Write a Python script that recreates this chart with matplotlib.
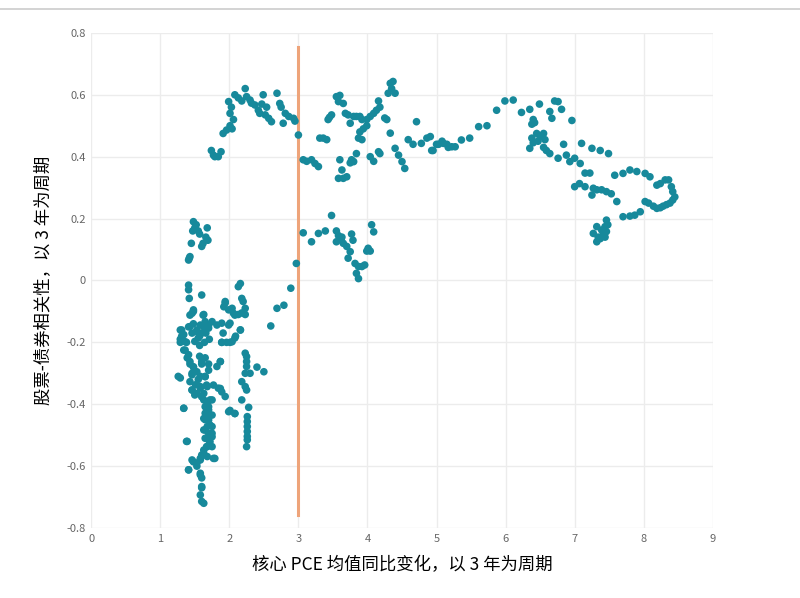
import numpy as np
import matplotlib.pyplot as plt
from matplotlib.lines import Line2D

plt.rcParams['font.family'] = ['Noto Sans CJK SC', 'DejaVu Sans']

# 低通胀区间 (PCE 1~3)
low_x = [1.48, 1.52, 1.50, 1.55, 1.47, 1.57, 1.68, 1.66, 1.69, 1.62, 1.60, 1.45,
         1.43, 1.41, 1.42, 1.41, 1.41, 1.42, 1.60, 2.13, 2.16, 2.18, 2.20, 1.94,
         1.92, 1.99, 2.06, 2.13, 2.23, 2.23, 2.16, 2.09, 2.01, 1.89, 1.48, 1.46,
         1.63, 1.31, 1.29, 1.34, 1.41, 1.48, 1.53, 1.57, 1.63, 1.70, 1.75, 1.82,
         1.89, 1.99, 1.66, 1.71, 1.64, 1.57, 1.50, 1.38, 1.34, 1.39, 1.43, 1.48,
         1.57, 1.60, 1.70, 1.70, 1.82, 1.87, 1.65, 1.58, 1.46, 1.43, 1.26, 1.51,
         1.58, 1.68, 1.77, 1.87, 1.89, 1.94, 1.46, 1.53, 1.63, 1.34, 1.39,
         2.23, 2.25, 2.25, 2.25, 2.23, 2.30, 2.40, 2.50, 2.18, 2.23, 2.25, 2.18,
         2.28, 2.26, 2.26, 2.26, 2.26, 2.26, 2.26, 2.25, 2.01, 2.08,
         2.97, 2.89, 2.79, 2.69, 2.60,
         1.63, 1.68, 1.72, 1.70, 1.65, 1.75, 1.63, 1.70, 1.68, 1.75, 1.63, 1.70,
         1.75, 1.65, 1.72, 1.68, 1.75, 1.63, 1.60, 1.68, 1.58, 1.77, 1.48, 1.41,
         1.53, 1.58, 1.60, 1.60, 1.58]
low_y = [0.19, 0.18, 0.17, 0.16, 0.16, 0.15, 0.17, 0.14, 0.13, 0.12, 0.11, 0.12,
         0.077, 0.066, 0.072, -0.015, -0.03, -0.058, -0.047, -0.02, -0.01, -0.058, -0.068, -0.068,
         -0.085, -0.095, -0.106, -0.11, -0.11, -0.09, -0.16, -0.18, -0.20, -0.20, -0.095, -0.106,
         -0.11, -0.16, -0.19, -0.175, -0.15, -0.14, -0.165, -0.18, -0.15, -0.145, -0.133, -0.144,
         -0.138, -0.144, -0.17, -0.19, -0.20, -0.21, -0.197, -0.20, -0.225, -0.25, -0.27, -0.28,
         -0.245, -0.27, -0.27, -0.29, -0.278, -0.262, -0.31, -0.31, -0.30, -0.327, -0.31, -0.337,
         -0.343, -0.343, -0.338, -0.349, -0.36, -0.375, -0.354, -0.365, -0.365, -0.413, -0.52,
         -0.235, -0.246, -0.262, -0.278, -0.30, -0.30, -0.28, -0.295, -0.327, -0.343, -0.354, -0.386,
         -0.41, -0.44, -0.456, -0.472, -0.488, -0.504, -0.515, -0.537, -0.42, -0.43,
         0.055, -0.025, -0.08, -0.09, -0.147,
         -0.386, -0.397, -0.386, -0.418, -0.429, -0.435, -0.446, -0.451, -0.472, -0.472, -0.483, -0.494,
         -0.505, -0.51, -0.521, -0.537, -0.537, -0.548, -0.564, -0.569, -0.58, -0.575, -0.586, -0.612,
         -0.60, -0.628, -0.666, -0.714, -0.693]

# 低通胀区间中最密集的一团
dense_x = [1.29, 1.31, 1.29, 1.36, 1.43, 1.46, 1.53, 1.58, 1.65, 1.70, 1.60, 1.55,
           1.43, 1.48, 1.62, 1.36, 1.41, 1.43, 1.48, 1.53, 1.46, 1.55, 1.65, 1.67,
           1.58, 1.46, 1.50, 1.60, 1.75, 1.70, 1.84, 1.87, 1.60, 1.65, 1.29, 1.89,
           1.96, 2.04, 2.08, 1.91, 2.01, 2.08, 2.18, 1.94, 2.04, 2.16,
           1.34, 1.38, 1.65, 1.70, 1.65, 1.72, 1.65, 1.75, 1.70, 1.67, 1.63, 1.58,
           1.46, 1.53, 1.41, 1.58, 1.60, 1.79, 1.99, 2.08, 1.60, 1.63]
dense_y = [-0.16, -0.18, -0.20, -0.198, -0.149, -0.17, -0.16, -0.144, -0.133, -0.154, -0.17, -0.186,
           -0.112, -0.10, -0.112, -0.225, -0.24, -0.262, -0.279, -0.295, -0.305, -0.32, -0.311, -0.338,
           -0.348, -0.354, -0.37, -0.376, -0.386, -0.408, -0.348, -0.262, -0.262, -0.25, -0.315, -0.20,
           -0.20, -0.198, -0.186, -0.17, -0.138, -0.112, -0.105, -0.073, -0.09, -0.16,
           -0.413, -0.52, -0.408, -0.43, -0.45, -0.467, -0.483, -0.494, -0.515, -0.537, -0.559, -0.575,
           -0.58, -0.59, -0.612, -0.623, -0.638, -0.575, -0.424, -0.43, -0.67, -0.72]

# 中段 (PCE 1.7~3.3, 高相关)
mid_x = [1.74, 1.79, 1.84, 1.88, 1.77, 1.91, 1.96, 2.01, 2.04, 2.06, 2.01, 2.03,
         1.99, 2.08, 2.13, 2.23, 2.18, 2.25, 2.30, 2.32, 2.37, 2.49, 2.47, 2.54,
         2.42, 2.44, 2.52, 2.57, 2.61, 2.69, 2.73, 2.75, 2.81, 2.86, 2.93, 2.95,
         2.78, 3.00]
mid_y = [0.42, 0.40, 0.40, 0.416, 0.405, 0.475, 0.486, 0.50, 0.49, 0.52, 0.54, 0.56,
         0.578, 0.60, 0.59, 0.62, 0.58, 0.594, 0.583, 0.573, 0.567, 0.60, 0.57, 0.56,
         0.55, 0.54, 0.535, 0.524, 0.513, 0.605, 0.572, 0.56, 0.54, 0.53, 0.524, 0.515,
         0.508, 0.47]

# PCE 3~5.8
up_x = [3.07, 3.12, 3.19, 3.24, 3.29, 3.31, 3.36, 3.41, 3.43, 3.48, 3.45,
        3.55, 3.60, 3.58, 3.65, 3.68, 3.72, 3.75, 3.80, 3.84, 3.89, 3.92, 3.99,
        4.04, 4.09, 4.13, 4.18, 4.16, 4.25, 4.28, 4.33, 4.37, 4.35, 4.40, 4.30,
        3.89, 3.94, 3.99, 3.87, 3.92, 3.60, 3.77, 3.80, 3.84, 3.75, 3.63, 3.58,
        3.65, 3.70, 4.04, 4.09, 4.16, 4.18, 4.33, 4.40, 4.45, 4.50, 4.54,
        4.71, 4.59, 4.66, 4.78, 4.86, 4.91, 4.93, 4.95, 5.00, 5.03, 5.08, 5.10,
        5.15, 5.17, 5.22, 5.27, 5.36, 5.48, 5.61, 5.73]
up_y = [0.39, 0.385, 0.39, 0.378, 0.368, 0.46, 0.46, 0.455, 0.52, 0.535, 0.527,
        0.594, 0.598, 0.578, 0.572, 0.54, 0.535, 0.508, 0.53, 0.53, 0.53, 0.52, 0.52,
        0.53, 0.54, 0.55, 0.56, 0.58, 0.525, 0.52, 0.637, 0.643, 0.62, 0.605, 0.605,
        0.48, 0.49, 0.50, 0.46, 0.455, 0.39, 0.39, 0.384, 0.41, 0.38, 0.357, 0.33,
        0.33, 0.335, 0.40, 0.385, 0.416, 0.41, 0.476, 0.427, 0.405, 0.384, 0.362,
        0.513, 0.455, 0.44, 0.443, 0.46, 0.465, 0.42, 0.42, 0.44, 0.44, 0.45, 0.443,
        0.44, 0.43, 0.432, 0.432, 0.454, 0.46, 0.497, 0.50]

# PCE 3~4.1, 低相关
dip_x = [3.48, 3.07, 3.19, 3.29, 3.39, 3.55, 3.58, 3.62, 3.55, 3.65, 3.70, 3.63,
         3.77, 3.79, 3.75, 3.72, 3.82, 3.87, 3.92, 3.96, 3.84, 3.87, 4.01, 4.04,
         3.99, 4.06, 4.09]
dip_y = [0.21, 0.154, 0.125, 0.152, 0.16, 0.16, 0.145, 0.13, 0.125, 0.12, 0.11, 0.14,
         0.15, 0.13, 0.093, 0.072, 0.055, 0.045, 0.045, 0.05, 0.023, 0.006, 0.104, 0.095,
         0.095, 0.18, 0.157]

# 高通胀区间 (PCE 5.8~8.5)
high_x = [5.87, 5.99, 6.11, 6.23, 6.35, 6.49, 6.71, 6.76, 6.64, 6.81, 6.67, 6.96,
          6.40, 6.42, 6.38, 6.45, 6.55, 6.50, 6.57, 6.38, 6.40, 6.35, 6.47, 6.55,
          6.59, 6.64, 6.76, 6.88, 6.84, 6.93, 7.00, 7.10, 7.08, 7.25, 7.37, 7.49,
          7.15, 7.22, 7.00, 7.07, 7.15, 7.27, 7.32, 7.39, 7.46, 7.53, 7.25, 7.61,
          7.58, 7.70, 7.80, 7.90, 8.02, 8.09, 8.19, 8.24, 8.31, 8.36, 8.40, 8.42,
          8.45, 8.42, 8.38, 8.33, 8.28, 8.24, 8.19, 8.14, 8.07, 8.02, 7.95, 7.87,
          7.80, 7.70, 7.46, 7.48, 7.44, 7.32, 7.39, 7.46, 7.41, 7.27, 7.34, 7.44,
          7.32, 7.37]
high_y = [0.55, 0.58, 0.583, 0.543, 0.553, 0.57, 0.58, 0.578, 0.546, 0.553, 0.524, 0.517,
          0.52, 0.51, 0.505, 0.475, 0.475, 0.465, 0.455, 0.46, 0.445, 0.427, 0.45, 0.43,
          0.42, 0.41, 0.395, 0.405, 0.44, 0.384, 0.395, 0.443, 0.378, 0.427, 0.42, 0.41,
          0.347, 0.347, 0.303, 0.313, 0.303, 0.298, 0.293, 0.293, 0.287, 0.28, 0.276, 0.255,
          0.34, 0.346, 0.357, 0.352, 0.346, 0.335, 0.308, 0.313, 0.325, 0.325, 0.303, 0.287,
          0.27, 0.26, 0.25, 0.245, 0.24, 0.235, 0.233, 0.24, 0.25, 0.255, 0.222, 0.211,
          0.208, 0.206, 0.195, 0.18, 0.174, 0.174, 0.163, 0.158, 0.147, 0.152, 0.14, 0.14,
          0.125, 0.135]

pce = np.array(low_x + dense_x + mid_x + up_x + dip_x + high_x)
corr = np.array(low_y + dense_y + mid_y + up_y + dip_y + high_y)

line_x = 3.0
line_y = [-0.758, 0.755]

y_ticks = [-0.8, -0.6, -0.4, -0.2, 0, 0.2, 0.4, 0.6, 0.8]
y_labels = ['-0.8', '-0.6', '-0.4', '-0.2', '0', '0.2', '0.4', '0.6', '0.8']

fig = plt.figure(figsize=(8, 5.98), dpi=100)
ax = fig.add_axes([0.114, 0.117, 0.777, 0.828])

ax.scatter(pce, corr, s=30, color='#17899b', edgecolors='none', zorder=3)
ax.plot([line_x, line_x], line_y, color='#eea47a', linewidth=2.2, zorder=2)

ax.set_xlim(0, 9)
ax.set_ylim(-0.8, 0.8)
ax.set_xticks(range(10))
ax.set_yticks(y_ticks)
ax.set_yticklabels(y_labels)
ax.tick_params(length=0, labelsize=8, labelcolor='#666666', pad=4)
ax.grid(True, color='#ececec', linewidth=1)
for s in ax.spines.values():
    s.set_visible(False)

ax.set_xlabel('核心 PCE 均值同比变化，以 3 年为周期', fontsize=12.5, labelpad=9)
ax.set_ylabel('股票-债券相关性，以 3 年为周期', fontsize=12.5, labelpad=10)

fig.add_artist(Line2D([0, 1], [1 - 9 / 598, 1 - 9 / 598], color='#cccccc', linewidth=1.2))

fig.savefig('out.png', dpi=100)
